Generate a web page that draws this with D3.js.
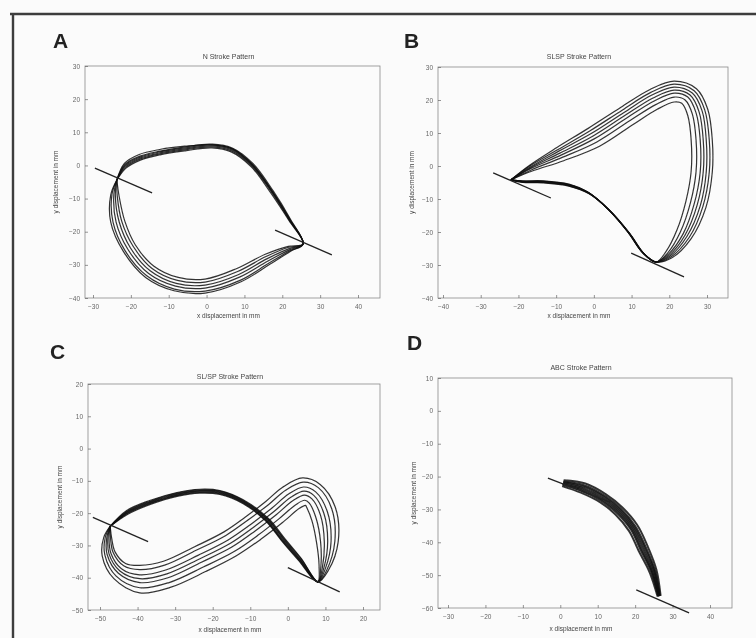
<!DOCTYPE html>
<html lang="en">
<head>
<meta charset="UTF-8">
<title>Stroke Patterns</title>
<script src="https://d3js.org/d3.v7.min.js"></script>
<style>
  body { margin: 0; background: #fbfbfb; }
  text { font-family: "Liberation Sans", Arial, sans-serif; }
</style>
</head>
<body>
<svg id="mainCanvas" width="756" height="638" xmlns="http://www.w3.org/2000/svg"></svg>
<script>

// ---- tick labels ----
const aXTicks = [-30, -20, -10, 0, 10, 20, 30, 40];
const aYTicks = [-40, -30, -20, -10, 0, 10, 20, 30];
const bXTicks = [-40, -30, -20, -10, 0, 10, 20, 30];
const bYTicks = [-40, -30, -20, -10, 0, 10, 20, 30];
const cXTicks = [-50, -40, -30, -20, -10, 0, 10, 20];
const cYTicks = [-50, -40, -30, -20, -10, 0, 10, 20];
const dXTicks = [-30, -20, -10, 0, 10, 20, 30, 40];
const dYTicks = [-60, -50, -40, -30, -20, -10, 0, 10];

const titles = ['N Stroke Pattern', 'SLSP Stroke Pattern', 'SL/SP Stroke Pattern', 'ABC Stroke Pattern'];
const xLabel = 'x displacement in mm';
const yLabel = 'y displacement in mm';

// ---- A: trajectories (mm) ----
const aStart = [-23.7, -4.4];
const aRight = [25.5, -23.7];
const aUpper = [
  [[-21.6,0.3],[-17.6,2.8],[-12.3,4.3],[-5.7,5.6],[1.4,6.4],[6.9,5.2],[12.3,0.5],[17.6,-7.7],[22.2,-16.3]],
  [[-21.5,0.1],[-17.6,2.5],[-12.3,4.1],[-5.7,5.3],[1.4,6.2],[6.8,5.0],[12.1,0.3],[17.4,-7.9],[22.1,-16.4]],
  [[-21.5,-0.2],[-17.6,2.2],[-12.3,3.8],[-5.7,5.0],[1.4,5.9],[6.7,4.7],[12.0,0.1],[17.3,-8.0],[22.0,-16.5]],
  [[-21.4,-0.5],[-17.6,1.9],[-12.3,3.5],[-5.7,4.7],[1.4,5.6],[6.6,4.4],[11.9,-0.1],[17.2,-8.2],[21.9,-16.6]],
  [[-21.3,-0.8],[-17.5,1.6],[-12.3,3.2],[-5.7,4.4],[1.4,5.3],[6.5,4.1],[11.8,-0.4],[17.0,-8.4],[21.8,-16.7]],
  [[-21.7,0.6],[-17.8,3.3],[-12.4,4.8],[-5.7,5.8],[1.4,6.2],[6.8,5.0],[12.1,0.2],[17.4,-7.9],[22.0,-16.5]]
];
const aLower = [
  [[21.6,-24.4],[15.5,-26.8],[8.0,-31.1],[-0.4,-34.3],[-7.5,-33.8],[-13.9,-30.4],[-18.8,-24.0],[-21.6,-16.8],[-23.1,-9.3]],
  [[21.7,-24.7],[15.7,-27.5],[8.2,-32.0],[-0.4,-35.2],[-7.7,-34.7],[-14.4,-31.1],[-19.4,-24.4],[-22.4,-16.9],[-23.6,-9.2]],
  [[21.8,-25.1],[15.9,-28.2],[8.5,-32.9],[-0.4,-36.1],[-8.0,-35.6],[-14.9,-31.8],[-20.1,-24.9],[-23.1,-17.0],[-24.1,-9.0]],
  [[22.0,-25.4],[16.1,-28.9],[8.7,-33.7],[-0.4,-37.0],[-8.2,-36.4],[-15.3,-32.6],[-20.8,-25.3],[-23.9,-17.1],[-24.5,-8.9]],
  [[22.1,-25.7],[16.3,-29.6],[9.0,-34.6],[-0.4,-37.9],[-8.5,-37.3],[-15.8,-33.3],[-21.5,-25.8],[-24.7,-17.2],[-25.0,-8.8]],
  [[22.2,-25.9],[16.5,-30.0],[9.1,-35.1],[-0.4,-38.5],[-8.6,-37.8],[-16.1,-33.8],[-21.9,-26.1],[-25.3,-17.2],[-25.3,-8.8]]
];
const aTangents = [[[-29.5,-0.8],[-14.4,-8.3]], [[18.1,-19.5],[33.1,-27.0]]];

// ---- B ----
const bStart = [-22.0, -4.2];
const bBottom = [16.5, -29.1];
const bUpper = [
  [[-16.5,-1.6],[-8.0,1.6],[1.5,6.0],[10.3,12.5],[16.8,17.2],[21.3,19.4],[23.3,19.0],[24.9,15.3],[25.8,7.9],[25.8,-1.6],[24.4,-10.7],[22.0,-19.5],[19.2,-25.8]],
  [[-16.6,-1.2],[-8.4,2.6],[0.8,7.3],[9.5,13.7],[16.4,18.6],[21.3,20.9],[24.2,20.0],[26.1,15.8],[27.1,7.9],[27.1,-1.7],[25.6,-11.2],[22.9,-20.1],[19.6,-26.3]],
  [[-16.8,-0.8],[-8.7,3.3],[0.2,8.3],[8.9,14.7],[16.0,19.7],[21.3,22.1],[24.9,20.9],[27.1,16.1],[28.2,7.9],[28.2,-1.8],[26.6,-11.5],[23.7,-20.5],[19.8,-26.7]],
  [[-16.9,-0.6],[-9.0,3.9],[-0.2,9.1],[8.5,15.5],[15.7,20.6],[21.3,23.0],[25.5,21.5],[27.9,16.4],[29.0,7.9],[29.0,-1.8],[27.4,-11.8],[24.2,-20.9],[20.0,-27.0]],
  [[-17.0,-0.4],[-9.3,4.5],[-0.6,9.9],[8.1,16.3],[15.4,21.5],[21.3,23.9],[26.1,22.1],[28.7,16.7],[29.8,7.9],[29.8,-1.8],[28.2,-12.1],[24.7,-21.3],[20.2,-27.3]],
  [[-17.1,-0.1],[-9.5,5.0],[-1.1,10.6],[7.6,17.0],[15.1,22.3],[21.3,24.8],[26.6,22.8],[29.4,17.0],[30.6,7.9],[30.6,-1.9],[28.9,-12.3],[25.3,-21.6],[20.4,-27.6]],
  [[-17.2,0.1],[-9.8,5.6],[-1.5,11.4],[7.2,17.8],[14.9,23.2],[21.3,25.7],[27.2,23.4],[30.2,17.2],[31.4,7.9],[31.4,-1.9],[29.7,-12.6],[25.8,-22.0],[20.6,-27.9]]
];
const bLower = [
  [[13.3,-26.6],[9.5,-20.5],[4.2,-13.5],[-1.2,-8.4],[-6.6,-6.0],[-13.5,-5.0],[-18.8,-4.9]],
  [[13.2,-26.5],[9.4,-20.4],[4.1,-13.4],[-1.2,-8.3],[-6.6,-5.9],[-13.5,-4.9],[-18.8,-4.8]],
  [[13.1,-26.4],[9.3,-20.3],[4.0,-13.3],[-1.3,-8.2],[-6.6,-5.8],[-13.5,-4.8],[-18.8,-4.8]],
  [[13.0,-26.3],[9.2,-20.2],[3.9,-13.2],[-1.4,-8.1],[-6.6,-5.7],[-13.5,-4.7],[-18.8,-4.7]],
  [[12.9,-26.2],[9.1,-20.1],[3.8,-13.1],[-1.5,-8.0],[-6.6,-5.6],[-13.5,-4.6],[-18.8,-4.6]],
  [[13.4,-26.7],[9.6,-20.6],[4.3,-13.6],[-1.1,-8.5],[-6.6,-6.1],[-13.5,-5.1],[-18.8,-5.0]],
  [[12.8,-26.1],[9.0,-20.0],[3.7,-13.0],[-1.6,-7.9],[-6.6,-5.5],[-13.5,-4.5],[-18.8,-4.5]]
];
const bTangents = [[[-26.7,-2.1],[-11.4,-9.7]], [[9.9,-26.4],[23.9,-33.6]]];

// ---- C ----
const cStart = [-47.3, -24.1];
const cRight = [8.0, -41.3];
const cArc = [
  [[-42.8,-19.4],[-36.7,-16.3],[-29.5,-13.8],[-23.4,-12.8],[-18.1,-13.2],[-12.0,-16.0],[-5.3,-21.8],[-1.0,-28.0],[3.5,-34.2]],
  [[-42.8,-19.6],[-36.7,-16.5],[-29.5,-14.0],[-23.4,-13.0],[-18.1,-13.4],[-12.0,-16.2],[-5.4,-21.9],[-1.1,-28.1],[3.3,-34.3]],
  [[-42.8,-19.8],[-36.7,-16.7],[-29.5,-14.2],[-23.4,-13.2],[-18.1,-13.6],[-12.0,-16.4],[-5.6,-22.0],[-1.3,-28.2],[3.2,-34.4]],
  [[-42.8,-20.0],[-36.7,-16.9],[-29.5,-14.4],[-23.4,-13.4],[-18.1,-13.8],[-12.0,-16.6],[-5.8,-22.1],[-1.5,-28.3],[3.1,-34.5]],
  [[-42.8,-20.2],[-36.7,-17.1],[-29.5,-14.6],[-23.4,-13.6],[-18.1,-14.0],[-12.0,-16.8],[-5.9,-22.2],[-1.6,-28.4],[3.0,-34.6]],
  [[-42.9,-19.2],[-36.8,-16.1],[-29.5,-13.6],[-23.4,-12.6],[-18.1,-13.0],[-12.0,-15.8],[-5.1,-21.7],[-0.8,-27.9],[3.6,-34.1]],
  [[-42.7,-20.4],[-36.6,-17.3],[-29.5,-14.8],[-23.4,-13.8],[-18.1,-14.2],[-12.0,-17.0],[-6.0,-22.3],[-1.7,-28.5],[2.9,-34.7]]
];
const cBand = [
  [[8.3,-36.0],[7.6,-28.8],[6.4,-22.3],[5.0,-18.2],[4.7,-17.6],[3.0,-18.6],[-1.5,-23.0],[-7.2,-28.1],[-13.7,-33.2],[-21.9,-38.1],[-31.3,-43.0],[-39.4,-44.7],[-46.3,-40.3],[-49.4,-33.3],[-49.0,-27.5]],
  [[8.8,-36.3],[8.7,-28.8],[7.5,-21.5],[5.7,-16.9],[4.5,-16.0],[2.2,-17.3],[-2.3,-21.7],[-7.9,-26.8],[-14.3,-31.9],[-22.5,-36.7],[-31.6,-41.5],[-39.4,-43.1],[-45.7,-39.5],[-48.7,-33.0],[-48.6,-27.5]],
  [[9.2,-36.7],[9.7,-28.8],[8.7,-20.7],[6.4,-15.6],[4.4,-14.4],[1.4,-16.1],[-3.1,-20.5],[-8.7,-25.5],[-14.9,-30.5],[-23.0,-35.2],[-31.9,-40.0],[-39.4,-41.5],[-45.1,-38.6],[-48.1,-32.8],[-48.2,-27.6]],
  [[9.6,-36.9],[10.6,-28.8],[9.6,-20.1],[6.9,-14.5],[4.3,-13.2],[0.8,-15.1],[-3.7,-19.5],[-9.3,-24.5],[-15.4,-29.4],[-23.4,-34.1],[-32.2,-38.8],[-39.4,-40.3],[-44.7,-37.9],[-47.6,-32.6],[-47.9,-27.6]],
  [[10.0,-37.1],[11.5,-28.8],[10.5,-19.5],[7.4,-13.4],[4.2,-11.9],[0.2,-14.1],[-4.3,-18.5],[-9.9,-23.5],[-15.9,-28.3],[-23.8,-33.0],[-32.5,-37.6],[-39.4,-39.1],[-44.3,-37.2],[-47.1,-32.4],[-47.6,-27.6]],
  [[10.4,-37.5],[12.5,-28.8],[11.7,-18.7],[8.1,-12.1],[4.1,-10.4],[-0.6,-12.9],[-5.1,-17.3],[-10.7,-22.2],[-16.5,-26.9],[-24.4,-31.5],[-32.8,-36.1],[-39.4,-37.5],[-43.7,-36.3],[-46.5,-32.2],[-47.2,-27.7]],
  [[10.8,-37.7],[13.4,-28.8],[12.6,-18.1],[8.6,-11.1],[3.9,-9.1],[-1.3,-11.9],[-5.8,-16.3],[-11.3,-21.2],[-17.0,-25.8],[-24.8,-30.4],[-33.1,-34.9],[-39.4,-36.2],[-43.2,-35.6],[-46.0,-32.0],[-46.9,-27.7]]
];
const cTangents = [[[-51.9,-21.3],[-37.2,-28.8]], [[0.0,-36.9],[13.8,-44.4]]];

// ---- D ----
const dTraces = [
  [[0.5,-22.9],[5.5,-24.9],[10.6,-27.8],[14.8,-31.6],[18.4,-36.6],[20.9,-42.5],[23.9,-49.2],[26.0,-56.5]],
  [[0.6,-22.5],[5.7,-24.3],[10.9,-27.3],[15.2,-31.2],[18.9,-36.2],[21.4,-42.2],[24.3,-49.0],[26.2,-56.5]],
  [[0.6,-22.3],[5.9,-23.9],[11.2,-27.0],[15.4,-30.8],[19.2,-36.0],[21.7,-42.0],[24.5,-48.9],[26.3,-56.4]],
  [[0.7,-22.0],[6.1,-23.5],[11.4,-26.6],[15.7,-30.5],[19.5,-35.7],[22.1,-41.8],[24.8,-48.8],[26.4,-56.4]],
  [[0.8,-21.7],[6.3,-23.1],[11.6,-26.2],[16.0,-30.2],[19.8,-35.4],[22.5,-41.6],[25.1,-48.7],[26.5,-56.4]],
  [[0.8,-21.5],[6.5,-22.7],[11.9,-25.9],[16.2,-29.8],[20.1,-35.2],[22.8,-41.4],[25.3,-48.6],[26.6,-56.3]],
  [[0.9,-21.1],[6.7,-22.1],[12.2,-25.4],[16.6,-29.4],[20.6,-34.8],[23.3,-41.1],[25.7,-48.4],[26.8,-56.3]]
];
const dTangents = [[[-3.3,-20.5],[13.3,-27.8]], [[20.3,-54.5],[34.4,-61.5]]];

// build full trace lists
const aTraces = aUpper.map((u, i) => [aStart, ...u, aRight, ...aLower[i], aStart]);
const bTraces = bUpper.map((u, i) => [bStart, ...u, bBottom, ...bLower[i], bStart]);
const cTraces = cArc.map((u, i) => [cStart, ...u, cRight, ...cBand[i], cStart]);

// ---- layout ----
const panels = [
  { letter: 'A', lx: 53, ly: 48, title: titles[0], xTicks: aXTicks, yTicks: aYTicks, traces: aTraces, tangents: aTangents,
    xRange: [93, 358], yRange: [298, 66], box: [85, 66, 380, 298], titleY: 59, xLabY: 318, yLabX: 58, lineW: 1.2 },
  { letter: 'B', lx: 404, ly: 48, title: titles[1], xTicks: bXTicks, yTicks: bYTicks, traces: bTraces, tangents: bTangents,
    xRange: [443, 707], yRange: [298, 67], box: [438, 67, 728, 298], titleY: 59, xLabY: 318, yLabX: 414, lineW: 1.2 },
  { letter: 'C', lx: 50, ly: 359, title: titles[2], xTicks: cXTicks, yTicks: cYTicks, traces: cTraces, tangents: cTangents,
    xRange: [100, 363], yRange: [610, 384], box: [88, 384, 380, 610], titleY: 379, xLabY: 632, yLabX: 62, lineW: 1.2 },
  { letter: 'D', lx: 407, ly: 350, title: titles[3], xTicks: dXTicks, yTicks: dYTicks, traces: dTraces, tangents: dTangents,
    xRange: [448, 710], yRange: [608, 378], box: [438, 378, 732, 608], titleY: 370, xLabY: 631, yLabX: 416, lineW: 2 }
];

const svg = d3.select('#mainCanvas');
svg.append('rect').attr('width', 756).attr('height', 638).attr('fill', '#fbfbfb');

const defs = svg.append('defs');
defs.append('filter').attr('id', 'scan')
  .attr('x', 0).attr('y', 0).attr('width', 756).attr('height', 638)
  .attr('filterUnits', 'userSpaceOnUse')
  .append('feGaussianBlur').attr('stdDeviation', 0.7);

const root = svg.append('g').attr('filter', 'url(#scan)');

// outer frame of the figure
root.append('path')
  .attr('d', 'M10,14H756M13,14V638')
  .attr('fill', 'none')
  .attr('stroke', '#3c3c3c')
  .attr('stroke-width', 2.4);

let drawPanel = function(p) {
  const g = root.append('g');
  const x = d3.scaleLinear().domain([p.xTicks[0], p.xTicks[p.xTicks.length - 1]]).range(p.xRange);
  const y = d3.scaleLinear().domain([p.yTicks[0], p.yTicks[p.yTicks.length - 1]]).range(p.yRange);
  const [bl, bt, br, bb] = p.box;

  g.append('rect')
    .attr('x', bl).attr('y', bt).attr('width', br - bl).attr('height', bb - bt)
    .attr('fill', 'none').attr('stroke', '#8a8a8a').attr('stroke-width', 0.8);

  const xAxis = g.append('g').attr('transform', 'translate(0,' + bb + ')')
    .call(d3.axisBottom(x).tickValues(p.xTicks).tickSize(-3).tickPadding(6));
  const yAxis = g.append('g').attr('transform', 'translate(' + bl + ',0)')
    .call(d3.axisLeft(y).tickValues(p.yTicks).tickSize(-3).tickPadding(5));
  [xAxis, yAxis].forEach(a => {
    a.select('.domain').remove();
    a.selectAll('line').attr('stroke', '#666').attr('stroke-width', 0.7);
    a.selectAll('text').attr('fill', '#666').style('font-size', '6.5px');
  });

  // traces
  const line = d3.line().x(d => x(d[0])).y(d => y(d[1])).curve(d3.curveCatmullRom.alpha(0.5));
  g.selectAll('.trace').data(p.traces).enter().append('path')
    .attr('class', 'trace')
    .attr('d', line)
    .attr('fill', 'none')
    .attr('stroke', '#111')
    .attr('stroke-width', p.lineW)
    .attr('stroke-opacity', 0.85);

  g.selectAll('.tangent').data(p.tangents).enter().append('line')
    .attr('class', 'tangent')
    .attr('x1', d => x(d[0][0])).attr('y1', d => y(d[0][1]))
    .attr('x2', d => x(d[1][0])).attr('y2', d => y(d[1][1]))
    .attr('stroke', '#222').attr('stroke-width', 1.3);

  // texts
  g.append('text').attr('x', p.lx).attr('y', p.ly).text(p.letter)
    .style('font-size', '21px').style('font-weight', 'bold').attr('fill', '#222');
  g.append('text').attr('x', (bl + br) / 2 - 4).attr('y', p.titleY).text(p.title)
    .attr('text-anchor', 'middle').style('font-size', '7px').attr('fill', '#444');
  g.append('text').attr('x', (bl + br) / 2 - 4).attr('y', p.xLabY).text(xLabel)
    .attr('text-anchor', 'middle').style('font-size', '6.5px').attr('fill', '#444');
  g.append('text')
    .attr('transform', 'translate(' + p.yLabX + ',' + ((bt + bb) / 2) + ') rotate(-90)')
    .text(yLabel)
    .attr('text-anchor', 'middle').style('font-size', '6.5px').attr('fill', '#444');
};

panels.forEach(drawPanel);

</script>
</body>
</html>
